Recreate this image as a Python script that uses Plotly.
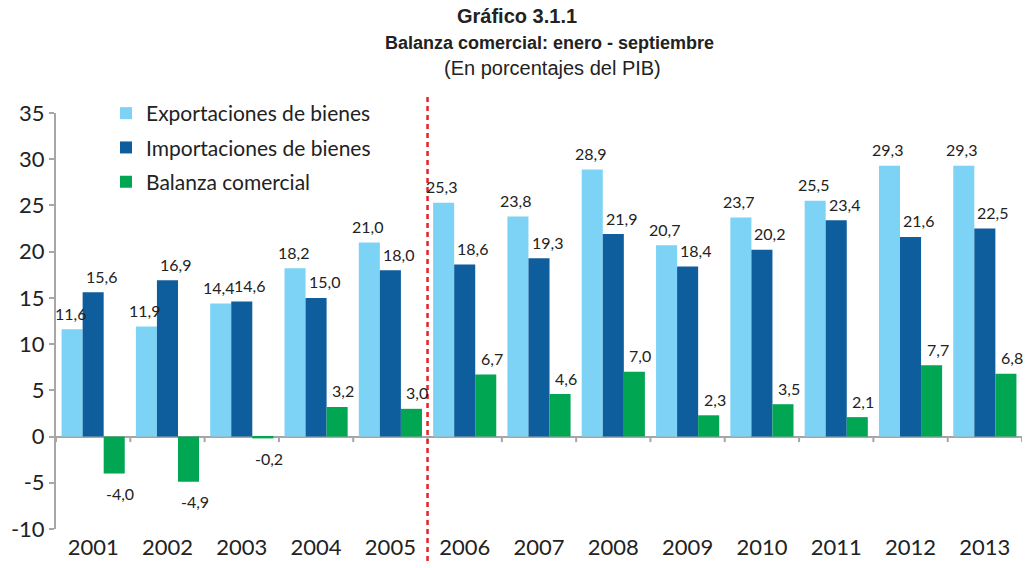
import plotly.graph_objects as go

years = ["2001", "2002", "2003", "2004", "2005", "2006", "2007", "2008", "2009", "2010", "2011", "2012", "2013"]
exportaciones = [11.6, 11.9, 14.4, 18.2, 21.0, 25.3, 23.8, 28.9, 20.7, 23.7, 25.5, 29.3, 29.3]
importaciones = [15.6, 16.9, 14.6, 15.0, 18.0, 18.6, 19.3, 21.9, 18.4, 20.2, 23.4, 21.6, 22.5]
balanza = [-4.0, -4.9, -0.2, 3.2, 3.0, 6.7, 4.6, 7.0, 2.3, 3.5, 2.1, 7.7, 6.8]
y_ticks = [-10, -5, 0, 5, 10, 15, 20, 25, 30, 35]

names = ["Exportaciones de bienes", "Importaciones de bienes", "Balanza comercial"]
colors = ["#7DD3F5", "#0E5D9C", "#00A651"]
label_xshift = [-2, 8, 6]

font_family = "Lato, 'Open Sans', sans-serif"
BARGAP = 0.15

# Body margin is removed via post_script, so figure pixels == page pixels.
PAGE_W, PAGE_H = 1029, 568
PLOT_L, PLOT_T, PLOT_R, PLOT_B = 56, 113, 1022, 529

def py(page_y):
    return (PLOT_B - page_y) / (PLOT_B - PLOT_T)

def px(page_x):
    return (page_x - PLOT_L) / (PLOT_R - PLOT_L)

def fmt(v):
    return f"{v:.1f}".replace(".", ",")

fig = go.Figure()
series = [exportaciones, importaciones, balanza]
bar_w = (1 - BARGAP) / len(series)
annotations = []
for k, (name, vals, col) in enumerate(zip(names, series, colors)):
    fig.add_trace(go.Bar(
        x=list(range(len(years))), y=vals, name=name, marker_color=col,
        marker_line_width=0, legendgroup=f"g{k}", hoverinfo="skip",
    ))
    offset = (k - (len(series) - 1) / 2) * bar_w
    for i, v in enumerate(vals):
        annotations.append(dict(
            x=i + offset, y=v, xref="x", yref="y", text=fmt(v), showarrow=False,
            xanchor="center", yanchor="middle",
            yshift=16 if v >= 0 else -20, xshift=label_xshift[k],
            font=dict(size=16, color="#222222", family=font_family),
        ))

shapes = []
for i in range(len(years) + 1):
    shapes.append(dict(type="line", xref="x", yref="y", x0=i - 0.5, x1=i - 0.5, y0=0, y1=-0.6,
                       line=dict(color="#A6A6A6", width=2)))
shapes.append(dict(type="line", xref="x", yref="paper", x0=4.5, x1=4.5, y0=py(561), y1=py(96),
                   line=dict(color="#E8202A", width=2.5, dash="5px,4px")))

for txt, xpix, ypix, size in [("<b>Gráfico 3.1.1</b>", 517, 16, 20),
                              ("<b>Balanza comercial: enero - septiembre</b>", 549, 43, 18),
                              ("(En porcentajes del PIB)", 552, 68, 20)]:
    annotations.append(dict(text=txt, xref="paper", yref="paper", x=px(xpix), y=py(ypix),
                            xanchor="center", yanchor="middle", showarrow=False, borderpad=0,
                            font=dict(family="Arial, 'Liberation Sans'", size=size, color="#222222")))

fig.update_layout(
    width=PAGE_W, height=PAGE_H,
    paper_bgcolor="white", plot_bgcolor="white",
    barmode="group", bargap=BARGAP, bargroupgap=0,
    margin=dict(l=PLOT_L, r=PAGE_W - PLOT_R, t=PLOT_T, b=PAGE_H - PLOT_B),
    font=dict(family=font_family, color="#222222"),
    showlegend=True,
    legend=dict(x=px(106), y=py(93), xanchor="left", yanchor="top",
                font=dict(size=21, color="#222222", family=font_family),
                bgcolor="rgba(0,0,0,0)", itemwidth=30, tracegroupgap=4),
    xaxis=dict(tickmode="array", tickvals=list(range(len(years))), ticktext=years,
               range=[-0.5, len(years) - 0.5], showline=False, showgrid=False, zeroline=False,
               ticks="", ticklabelstandoff=3,
               tickfont=dict(size=22, color="#222222"), automargin=False),
    yaxis=dict(range=[-10, 35], tickmode="array", tickvals=y_ticks, ticktext=[str(t) for t in y_ticks],
               showgrid=False, zeroline=True, zerolinecolor="#A6A6A6",
               zerolinewidth=2, showline=True, linecolor="#A6A6A6", linewidth=2,
               ticks="outside", ticklen=5, tickcolor="#A6A6A6", tickwidth=2,
               tickfont=dict(size=22, color="#222222"), automargin=False),
    shapes=shapes,
    annotations=annotations,
)

fig.write_html("out.html", config={"displayModeBar": False},
               post_script="document.body.style.margin='0px';")
